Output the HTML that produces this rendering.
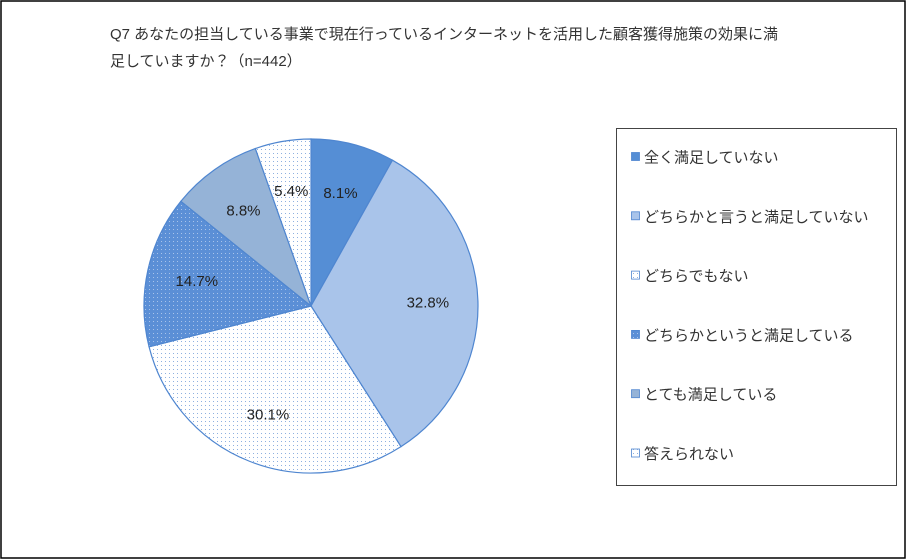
<!DOCTYPE html>
<html><head><meta charset="utf-8"><style>
body{margin:0;background:#fff;}
svg{display:block;font-family:"Liberation Sans","Noto Sans CJK JP",sans-serif;}
</style></head><body>
<svg width="907" height="560" viewBox="0 0 907 560">
<defs>
<pattern id="pw" width="4" height="4" patternUnits="userSpaceOnUse"><rect width="4" height="4" fill="#fff"/><rect x="1" y="1" width="1" height="1" fill="#8eb0e0"/></pattern>
<pattern id="pd" width="4" height="4" patternUnits="userSpaceOnUse"><rect width="4" height="4" fill="#5b8fd6"/><rect x="1" y="1" width="1" height="1" fill="#a9c4ea"/></pattern>
</defs>
<rect x="1" y="1" width="904" height="557" fill="#fff" stroke="#000" stroke-width="1.5"/>
<text x="110" y="39" font-size="15" fill="#333">Q7 あなたの担当している事業で現在行っているインターネットを活用した顧客獲得施策の効果に満</text>
<text x="110" y="66" font-size="15" fill="#333">足していますか？（n=442）</text>
<g id="pie"></g>
<rect x="616.5" y="128.5" width="280" height="357" fill="#fff" stroke="#444"/>
<g id="legend"></g>
</svg>
<script>
const categories=["全く満足していない","どちらかと言うと満足していない","どちらでもない","どちらかというと満足している","とても満足している","答えられない"];
const values=[8.1,32.8,30.1,14.7,8.8,5.4];
const labels=["8.1%","32.8%","30.1%","14.7%","8.8%","5.4%"];
const fills=["#558ed5","#a9c4ea","url(#pw)","url(#pd)","#95b3d7","url(#pw)"];
const ns="http://www.w3.org/2000/svg";
const cx=311,cy=306,r=167;
const pie=document.getElementById('pie');
const total=values.reduce((a,b)=>a+b,0);
let a0=0;
values.forEach((v,i)=>{
  const a1=a0+v/total*2*Math.PI;
  const p=(a)=>[cx+r*Math.sin(a),cy-r*Math.cos(a)];
  const s=p(a0),e=p(a1);
  const path=document.createElementNS(ns,'path');
  path.setAttribute('d',`M${cx},${cy}L${s[0]},${s[1]}A${r},${r} 0 ${a1-a0>Math.PI?1:0} 1 ${e[0]},${e[1]}Z`);
  path.setAttribute('fill',fills[i]);path.setAttribute('stroke','#4f86d0');path.setAttribute('stroke-width','1.2');
  
  
  pie.appendChild(path);
  const m=(a0+a1)/2,lr=r*0.7;
  const t=document.createElementNS(ns,'text');
  t.setAttribute('x',cx+lr*Math.sin(m));t.setAttribute('y',cy-lr*Math.cos(m)+5);
  t.setAttribute('text-anchor','middle');t.setAttribute('font-size','15');t.setAttribute('fill','#222');
  t.textContent=labels[i];
  
  
  pie.appendChild(t);
  a0=a1;
});
const lg=document.getElementById('legend');
categories.forEach((c,i)=>{
  const y=157+i*59.3;
  const g=document.createElementNS(ns,'g');
  
  
  const sq=document.createElementNS(ns,'rect');
  sq.setAttribute('x',631.5);sq.setAttribute('y',y-4.5);sq.setAttribute('width',8);sq.setAttribute('height',8);
  sq.setAttribute('fill',fills[i]);sq.setAttribute('stroke','#4f86d0');sq.setAttribute('stroke-width','0.8');
  
  
  const t=document.createElementNS(ns,'text');
  t.setAttribute('x',644);t.setAttribute('y',y+5.5);t.setAttribute('font-size','15');t.setAttribute('fill','#333');
  t.textContent=c;
  
  
  g.appendChild(sq);g.appendChild(t);lg.appendChild(g);
});
</script>
</body></html>
